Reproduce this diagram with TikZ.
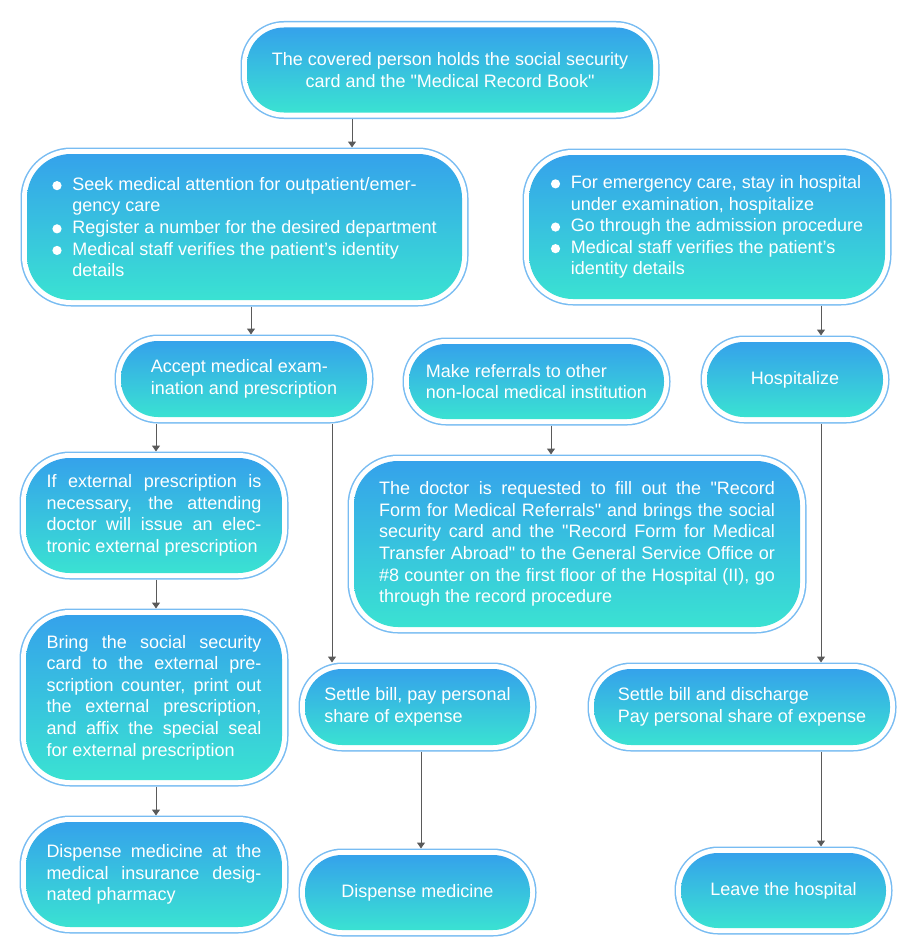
\documentclass[tikz,border=0pt]{standalone}
\usepackage{fontspec}
\setmainfont{Liberation Sans}[Ligatures=TeXOff]
\usetikzlibrary{arrows.meta, positioning}
\definecolor{BoxTop}{HTML}{35A2EB}
\definecolor{BoxBottom}{HTML}{3AE2D2}
\definecolor{RingBlue}{HTML}{78BCF2}
\definecolor{ArrowGray}{HTML}{5A5A5A}
\newcommand{\bul}{\makebox[20pt][l]{\tikz\fill[white] (0,0) circle[radius=4.6pt];}}

\begin{document}
\begin{tikzpicture}[
        x=1pt, y=-1pt,
        box/.style={rectangle, rounded corners=37pt, top color=BoxTop, bottom color=BoxBottom, text=white, font=\fontsize{18}{21.6}\selectfont, inner sep=0pt, outer sep=6.5pt, align=left, preaction={draw=RingBlue, line width=13pt}, preaction={draw=white, line width=10pt}},
        tallbox/.style={box, rounded corners=44pt},
        boxsize/.style 2 args={minimum width=#1, minimum height=#2},
        arrow/.style={-{Triangle[length=6pt, width=8pt]}, line width=1pt, ArrowGray}
      ]
        \fill[white] (0,0) rectangle (900,950);
        \useasboundingbox (0,0) rectangle (900,950);

        % Nodes
        \node[box, boxsize={406pt}{85pt}, align=center] (holdcard) at (450,70) {The covered person holds the social security\\card and the "Medical Record Book"};
        \node[tallbox, boxsize={435pt}{146pt}] (outpatient) at (244.5,227) {\bul Seek medical attention for outpatient/emer-\\\hspace*{20pt}gency care\\\bul Register a number for the desired department\\\bul Medical staff verifies the patient’s identity\\\hspace*{20pt}details};
        \node[tallbox, boxsize={356pt}{144pt}] (emergency) at (707,227) {\bul For emergency care, stay in hospital\\\hspace*{20pt}under examination, hospitalize\\\bul Go through the admission procedure\\\bul Medical staff verifies the patient’s\\\hspace*{20pt}identity details};

        \node[box, boxsize={246pt}{76pt}] (accept) at (244,379) {Accept medical exam-\\ination and prescription};
        \node[box, boxsize={255pt}{75pt}] (referral) at (536.5,381.5) {Make referrals to other\\non-local medical institution};
        \node[box, boxsize={176pt}{75pt}] (hospitalize) at (795,379.5) {Hospitalize};

        \node[tallbox, boxsize={256pt}{115pt}, text width=215pt, align=justify] (extpres) at (154,515.5) {If external prescription is\linebreak necessary, the attending\linebreak doctor will issue an elec-\linebreak tronic external prescription};
        \node[tallbox, boxsize={256pt}{165pt}, text width=215pt, align=justify, below=29pt of extpres] (bringcard) {Bring the social security\linebreak card to the external pre-\linebreak scription counter, print out\linebreak the external prescription,\linebreak and affix the special seal\linebreak for external prescription};
        \node[tallbox, boxsize={256pt}{105pt}, text width=215pt, align=justify, below=29pt of bringcard] (pharmacy) {Dispense medicine at the\linebreak medical insurance desig-\linebreak nated pharmacy};

        \node[tallbox, boxsize={446pt}{166pt}, text width=396pt, align=justify] (doctor) at (577,544) {The doctor is requested to fill out the "Record\linebreak Form for Medical Referrals" and brings the social\linebreak security card and the "Record Form for Medical\linebreak Transfer Abroad" to the General Service Office or\linebreak \#8 counter on the first floor of the Hospital (II), go\linebreak through the record procedure};

        \node[box, boxsize={225pt}{76pt}] (settlebill) at (417.5,707) {Settle bill, pay personal\\share of expense};
        \node[box, boxsize={296pt}{76pt}] (discharge) at (742,707) {Settle bill and discharge\\Pay personal share of expense};
        \node[box, boxsize={225pt}{75pt}, below=97pt of settlebill] (dispense) {Dispense medicine};
        \node[box, boxsize={205pt}{75pt}] (leave) at (783.5,890.5) {Leave the hospital};

        % Lanes
        \coordinate (laneTop) at (352,0);
        \coordinate (laneOut) at (251,0);
        \coordinate (laneLeft) at (156,0);
        \coordinate (laneMid) at (332,0);
        \coordinate (laneSettle) at (421,0);
        \coordinate (laneRef) at (551,0);
        \coordinate (laneRight) at (821,0);

        % Connections
        \draw[arrow] (holdcard.south -| laneTop) -- (outpatient.north -| laneTop);
        \draw[arrow] (outpatient.south -| laneOut) -- (accept.north -| laneOut);
        \draw[arrow] (accept.south -| laneLeft) -- (extpres.north -| laneLeft);
        \draw[arrow] (extpres.south -| laneLeft) -- (bringcard.north -| laneLeft);
        \draw[arrow] (bringcard.south -| laneLeft) -- (pharmacy.north -| laneLeft);
        \draw[arrow] (accept.south -| laneMid) -- (settlebill.north -| laneMid);
        \draw[arrow] (settlebill.south -| laneSettle) -- (dispense.north -| laneSettle);
        \draw[arrow] (referral.south -| laneRef) -- (doctor.north -| laneRef);
        \draw[arrow] (emergency.south -| laneRight) -- (hospitalize.north -| laneRight);
        \draw[arrow] (hospitalize.south -| laneRight) -- (discharge.north -| laneRight);
        \draw[arrow] (discharge.south -| laneRight) -- (leave.north -| laneRight);
      \end{tikzpicture}
\end{document}
